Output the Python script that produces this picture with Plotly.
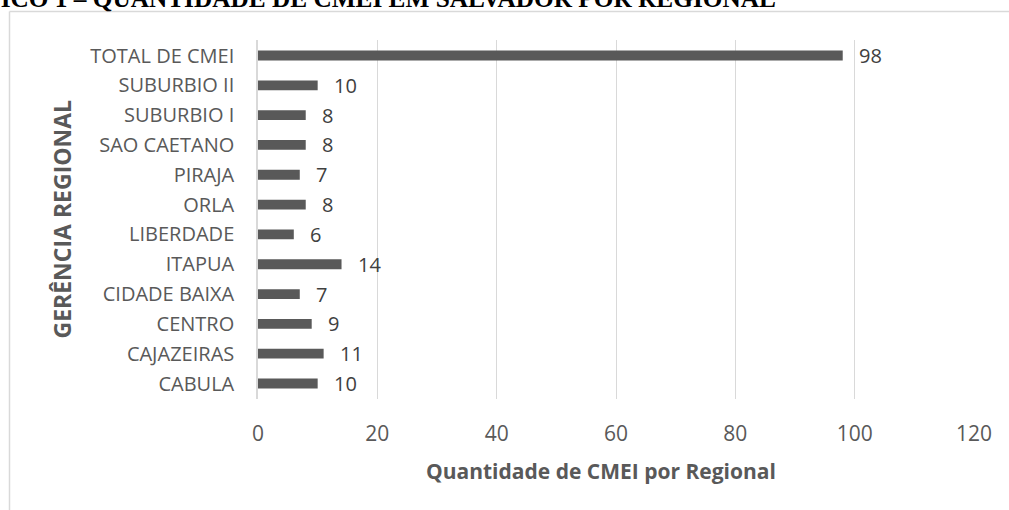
import plotly.graph_objects as go

categories = ["CABULA", "CAJAZEIRAS", "CENTRO", "CIDADE BAIXA", "ITAPUA", "LIBERDADE",
              "ORLA", "PIRAJA", "SAO CAETANO", "SUBURBIO I", "SUBURBIO II", "TOTAL DE CMEI"]
values = [10, 11, 9, 7, 14, 6, 8, 7, 8, 8, 10, 98]
x_ticks = [0, 20, 40, 60, 80, 100, 120]

title_text = "GRÁFICO 1 – QUANTIDADE DE CMEI EM SALVADOR POR REGIONAL"
x_title = "Quantidade de CMEI por Regional"
y_title = "GERÊNCIA REGIONAL"

W, H = 1009, 510
L, R, T, B = 258, 35, 40, 111
pw, ph = W - L - R, H - T - B

def px_x(p):
    return (p - L) / pw

def px_y(p):
    return 1 - (p - T) / ph

fig = go.Figure()
fig.add_trace(go.Bar(
    x=values, y=categories, orientation="h",
    marker=dict(color="#595959", line=dict(width=0)),
    width=0.33, hoverinfo="x+y",
))

annotations = []
for c, v in zip(categories, values):
    annotations.append(dict(
        x=v, y=c, xref="x", yref="y", text=str(v), showarrow=False,
        xanchor="left", yanchor="middle", xshift=14,
        font=dict(family="Open Sans", size=20, color="#404040"),
    ))

annotations.append(dict(
    x=px_x(61), y=0.5, xref="paper", yref="paper", text=y_title, showarrow=False,
    textangle=-90, xanchor="center", yanchor="middle",
    font=dict(family="Open Sans", size=23, color="#595959", weight="bold"),
))

annotations.append(dict(
    x=px_x(601), y=px_y(471), xref="paper", yref="paper", text=x_title, showarrow=False,
    xanchor="center", yanchor="middle",
    font=dict(family="Open Sans", size=21, color="#595959", weight="bold"),
))

annotations.append(dict(
    x=px_x(778), y=px_y(14.5), xref="paper", yref="paper", text=title_text, showarrow=False,
    xanchor="right", yanchor="bottom",
    font=dict(family="Liberation Serif", size=25.3, color="#000000", weight="bold",
              variant="small-caps"),
))

shapes = [
    dict(type="line", xref="paper", yref="paper",
         x0=px_x(9.5), x1=px_x(9.5), y0=px_y(11.5), y1=px_y(520),
         line=dict(color="#d9d9d9", width=1.5)),
    dict(type="line", xref="paper", yref="paper",
         x0=px_x(9.5), x1=px_x(1020), y0=px_y(11.5), y1=px_y(11.5),
         line=dict(color="#d9d9d9", width=1.5)),
]

fig.update_layout(
    width=W, height=H,
    margin=dict(l=L, r=R, t=T, b=B, pad=0),
    paper_bgcolor="white", plot_bgcolor="white",
    showlegend=False,
    annotations=annotations,
    shapes=shapes,
    font=dict(family="Open Sans", color="#595959"),
    xaxis=dict(
        range=[0, 120], tickvals=x_ticks, ticktext=[str(t) for t in x_ticks],
        showgrid=True, gridcolor="#d9d9d9", gridwidth=1,
        zeroline=False, showline=False, ticks="",
        tickfont=dict(family="Open Sans", size=21, color="#595959"),
        ticklabelstandoff=20,
        fixedrange=True,
    ),
    yaxis=dict(
        categoryorder="array", categoryarray=categories,
        showgrid=False, zeroline=False,
        showline=True, linecolor="#d9d9d9", linewidth=1.5,
        ticks="", ticklabelstandoff=18,
        tickfont=dict(family="Open Sans", size=20, color="#595959"),
        fixedrange=True,
    ),
)

fig.write_html("out.html", config={"displayModeBar": False},
               post_script="document.body.style.margin='0';document.body.style.overflow='hidden';")
